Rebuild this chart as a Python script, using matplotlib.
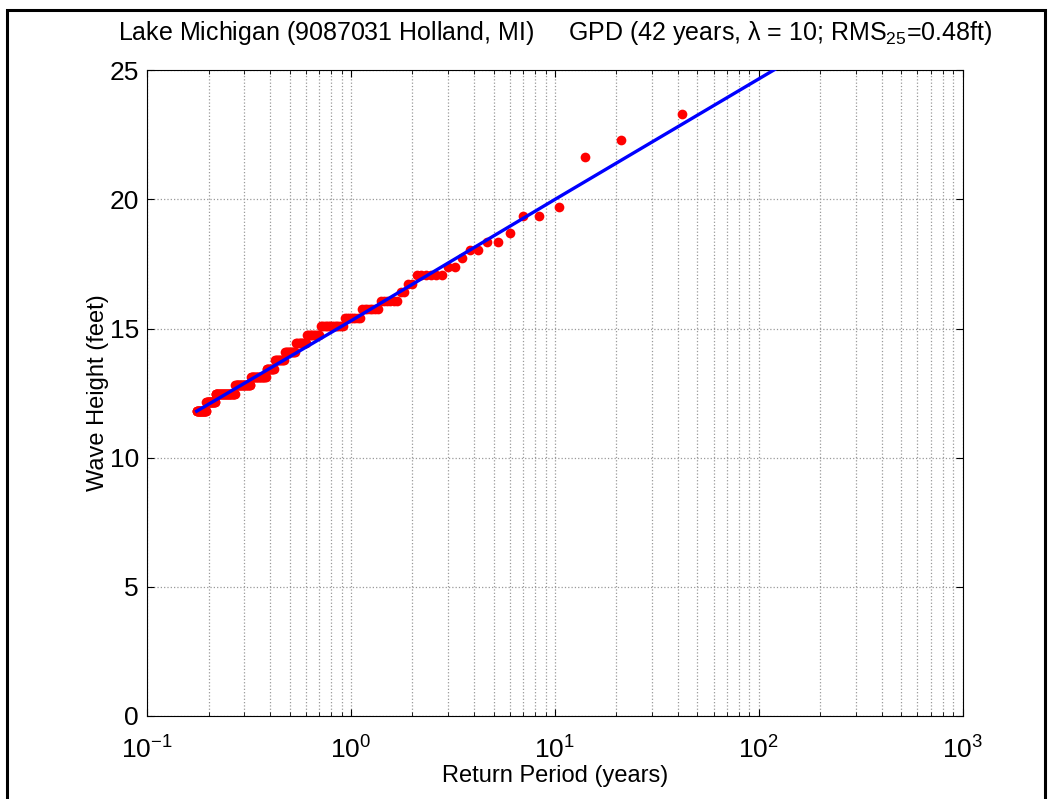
import matplotlib
matplotlib.use('Agg')
import matplotlib.pyplot as plt
import numpy as np
from matplotlib.patches import Rectangle
from matplotlib.ticker import LogLocator, NullFormatter

plt.rcParams['font.family'] = ['Liberation Sans', 'DejaVu Sans']
plt.rcParams['mathtext.fontset'] = 'custom'
plt.rcParams['mathtext.rm'] = 'Liberation Sans'
plt.rcParams['mathtext.it'] = 'Liberation Sans:italic'

# record length and storm wave heights (ft), ranked from largest, given as level + count
record_years = 42
wave_levels = [23.29, 22.31, 21.65, 19.69, 19.36, 18.70, 18.37, 18.04, 17.72, 17.39,
               17.06, 16.73, 16.40, 16.08, 15.75, 15.42, 15.09, 14.76, 14.44, 14.11,
               13.78, 13.45, 13.12, 12.80, 12.47, 12.14, 11.81]
level_counts = [1, 1, 1, 1, 2, 1, 2, 2, 1, 2,
                6, 2, 2, 6, 7, 8, 14, 10, 9, 11,
                10, 10, 21, 25, 39, 21, 25]

# GPD fit curve
fit_period = [0.175, 1.0, 10.0, 130.0]
fit_height = [11.8, 15.3, 20.0, 25.2]

heights = np.repeat(wave_levels, level_counts)
ranks = np.arange(1, len(heights) + 1)
periods = record_years / ranks

fig = plt.figure(figsize=(10.51, 7.99), dpi=100)
ax = fig.add_axes([0.140, 0.104, 0.776, 0.808])

ax.plot(periods, heights, 'o', color='#ff0000', markersize=7, markeredgewidth=0, zorder=3)
ax.plot(fit_period, fit_height, '-', color='#0000ff', linewidth=2.4, zorder=4)

ax.set_xscale('log')
ax.set_xlim(0.1, 1000)
ax.set_ylim(0, 25)
ax.set_yticks([0, 5, 10, 15, 20, 25])
ax.xaxis.set_minor_locator(LogLocator(base=10, subs=np.arange(2, 10)))
ax.xaxis.set_minor_formatter(NullFormatter())

ax.grid(True, which='major', linestyle=':', color='#999999', linewidth=0.9)
ax.grid(True, which='minor', axis='x', linestyle=':', color='#999999', linewidth=0.9)
ax.tick_params(which='both', direction='in', top=True, right=True, labelsize=19)
ax.tick_params(axis='x', which='major', pad=15)
ax.tick_params(axis='y', which='major', pad=6)
ax.tick_params(which='major', length=5)
ax.tick_params(which='minor', length=3)
for s in ax.spines.values():
    s.set_linewidth(0.8)

ax.set_xlabel('Return Period (years)', fontsize=17, labelpad=1)
ax.set_ylabel('Wave Height (feet)', fontsize=17, labelpad=0)
ax.set_title('Lake Michigan (9087031 Holland, MI)     GPD (42 years, \u03bb = 10; RMS$_{25}$=0.48ft)',
             fontsize=18, pad=22)

fig.patches.append(Rectangle((0.0065, -0.02), 0.988, 1.007, transform=fig.transFigure,
                             fill=False, edgecolor='black', linewidth=2.2))

fig.savefig('out.png', dpi=100)
